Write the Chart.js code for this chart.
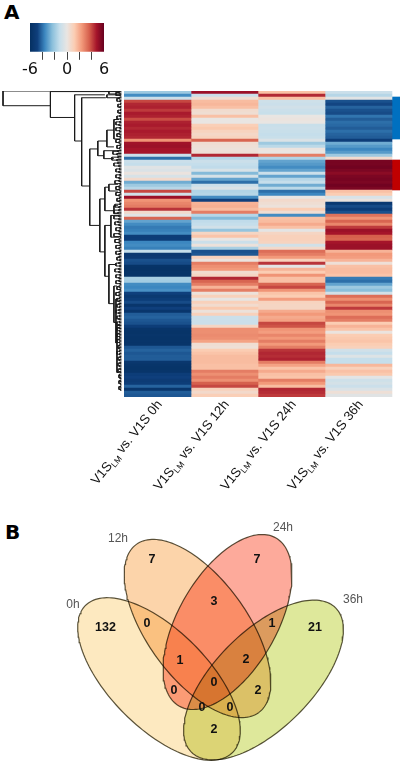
<!DOCTYPE html>
<html>
<head>
<meta charset="utf-8">
<script src="https://cdn.jsdelivr.net/npm/chart.js@4"></script>
<style>
html, body { margin: 0; padding: 0; background: #fff; }
body { width: 404px; height: 765px; position: relative; overflow: hidden; }
canvas { position: absolute; display: block; }
#dendro, #heat { filter: blur(0.45px); }
.letter { position: absolute; font: bold 20px "DejaVu Sans"; color: #000; line-height: 20px; }
</style>
</head>
<body>
<div class="letter" style="left:4px;top:2px">A</div>
<div class="letter" style="left:5px;top:522px">B</div>
<canvas id="colorbar" width="96" height="56" style="left:18px;top:23px"></canvas>
<canvas id="dendro" width="124" height="318" style="left:0;top:85px"></canvas>
<canvas id="heat" width="320" height="420" style="left:84px;top:85px"></canvas>
<canvas id="venn" width="404" height="250" style="left:0;top:515px"></canvas>
<script>
// heatmap columns, one value per row (log2 fold change)
const timepoints = ['0h', '12h', '24h', '36h'];
const heat0h = [
  -2, -3.5, -1, 4, 4.5, 4.6, 4.2, 4.7, 4.6, 3.9,
  4.6, 4.7, 4.5, 4.7, 4.6, 4.5, 2.5, 4.9, 5, 4.8,
  4.8, -1, -4, -1, -1.2, -0.3, -0.5, 0.1, -0.6, 0.6,
  -2.8, -2, -1.5, 4, -0.8, 5, 2.5, 2.8, 3, 4.3,
  0.6, -0.3, 3.5, -3, -3.5, -3.8, -3.7, -3.5, -5, -5,
  -3.6, -3.5, -3.7, -1.2, -5.3, -5.2, -4.5, -4.6, -5.7, -5.8,
  -5.7, -5.7, -1.8, -1.9, -3.5, -3.6, -3.4, -4.8, -5.3, -5,
  -4.6, -5.5, -4.8, -5.5, -4.3, -4.2, -4.4, -4.5, -5, -5.6,
  -5.7, -5.6, -5.7, -5.6, -5.6, -4.4, -4.2, -4.4, -4.3, -4.3,
  -5.4, -5.6, -5.7, -5.6, -5, -4.8, -5.1, -5, -4.2, -5.5,
  -4.3, -4.4
];
const heat12h = [
  5, -1, 0.4, 1.6, 1.7, 1.5, 0.5, 0.4, 1.5, 0,
  0, 1.1, 1.3, 0.9, 0.7, 0.9, 3.5, 0.4, 0.3, 0.2,
  0.3, 4.5, -1.5, -1, -1.2, -1.3, -0.6, -2.5, -0.7, -3,
  -4, -1, -0.5, -1.6, -1.5, -3.5, -4.8, 1.8, 1.9, 1.6,
  3, -1.5, -2.5, -1.3, -1.2, -0.8, -2.2, 0.8, 1.4, 0,
  -1, 0.2, -1.8, -4.5, -4.4, 1, 0.1, 3, 2.6, 2.4,
  0.5, 0.8, 4.5, 3.5, 3, 1.8, 3, 0.2, 1, -0.1,
  1, 0.5, 1.3, 0.2, 1, -1, -1, -1, 0.8, 2.6,
  2.6, 2.7, 2.6, 2.2, 0.4, 0.3, 1.2, 1.4, 1.6, 1.6,
  1.6, 1.5, 1.5, 3, 2.6, 3, 2.6, 3.6, 4, 1,
  0.6, 1.1
];
const heat24h = [
  1.5, 4.5, 1.5, -0.9, -1, -0.8, -1, -1.1, 0, 0.1,
  0, -1.1, -1, -1.1, -1.2, -1.1, -0.5, -2, -1.4, 0.1,
  0, 3, -1.6, -3, -3.2, -3.5, -3, -1, -3, -1.5,
  -1.2, -2.8, -1.4, -4, -3.6, 0, 0.6, 0.4, 0.2, 1.2,
  0.4, -3.5, 1.5, 1.6, 2, 1.5, -0.2, 0.8, 1, 1,
  0.9, -0.8, 0.6, 3.3, 3, 2.4, 1, 4.3, -0.2, 1.8,
  1.2, 2.5, 1.5, 1.5, 3.5, 4, 2.5, 1.4, 1.2, 2.3,
  0.9, 0.8, 0.8, 2, 2.4, 2, 2.2, 4, 3.8, 2.5,
  2.3, 2.8, 2.4, 3, 2.4, 3, 4.3, 4.5, 4.4, 4.6,
  3, 2.2, 1.4, 2, 1.5, 1.4, 3, 2.4, 1.6, 4.5,
  4.4, 4.2
];
const heat36h = [
  -1, -1.5, -0.3, -4.5, -4.7, -4.2, -4.5, -4.6, -3.9, -4.3,
  -4, -4.1, -4.3, -4, -4.2, -4.3, -5, -2.8, -3.2, -3.6,
  -3.2, -2, 0.5, 5.7, 5.7, 5.8, 5.6, 5.3, 5.6, 5.7,
  5.6, 5.8, 5.6, 1.5, 1.2, -0.6, 0.1, -5.3, -4.6, -5,
  -4.5, 3.2, 2.5, 3.5, 2.8, 4.2, 5, 4.8, 3.6, 3.5,
  4.8, 5, 5, 1.8, 2.4, 2.3, 1.8, 0.3, 1.5, 1.6,
  1.6, 1.4, -3.8, -4, -3, -2, -2.4, -0.8, 3.3, 2.6,
  3.5, 2.8, 4.2, 2.6, 2.5, 3.3, 3, 1.2, 1.8, 1.4,
  0.1, 1.2, 1.3, 1.4, 1.2, 1, -0.8, -1.2, -0.4, -1.2,
  -1.2, 1.7, 1, 1.5, 1.3, -0.2, -0.9, -0.7, -1, -0.5,
  0.3, -0.3
];
const heatColumns = [heat0h, heat12h, heat24h, heat36h];

// side marks next to the heatmap, as row ranges
const blueMarkRows = [2, 15];
const redMarkRows = [23, 32];

// colour key
const keyMin = -6;
const keyMax = 6;
const keyLabels = [-6, 0, 6];
const keyColors = ['#053061', '#0f3f7c', '#3c87c0', '#8abfdb', '#c5deeb', '#e9e5e2',
  '#fbcdb3', '#f2997a', '#d6604d', '#a5142a', '#67001f'];

// dendrogram: each bracket has a height, two row ends and the height each arm reaches
const brHeight = [118, 71, 47, 40, 32, 24, 15, 8, 18, 22, 17, 13, 8, 17, 11, 13, 8, 6, 5, 13, 15];
const brTop = [0, 0.2, 1.3, 2.3, 19.7, 17, 13.3, 9.7, 20.3, 36.7, 32.7, 31.7, 39, 45.7, 42.3, 59, 66.3, 70.7, 79.7, 0, 1.3];
const brBottom = [5, 9, 17, 32.3, 45.7, 22, 19, 16.3, 23, 54.7, 40.7, 34, 41.7, 63, 49.7, 72.3, 78.7, 85.7, 95.7, 1, 2.3];
const brArmTop = [2, 2, 17, 16, 24, 15, 8, 3, 3, 17, 13, 4, 4, 11, 3, 6, 5, 3, 2, 1, 2];
const brArmBottom = [71, 47, 40, 32, 22, 18, 8, 3, 8, 17, 8, 4, 4, 13, 3, 8, 5, 5, 3, 1, 2];
// depth of the small leaf pairs (one per row) and of the groups of two pairs
const pairDepth = [
  3, 2, 3, 2, 1.5, 2, 1.5, 2, 2, 1.5,
  2, 3, 2, 2.5, 3, 2, 2.5, 3, 2, 2.5,
  4, 5, 4, 5, 4, 3, 2.5, 3, 2, 3,
  3, 2, 3, 3, 2, 3, 2.5, 3, 2, 3,
  3, 4, 3, 3, 4, 3, 2, 3, 3, 2,
  3, 3, 2, 3, 2, 3, 3, 2, 3, 2,
  3, 3, 2, 3, 3, 2, 3, 2, 3, 3,
  2.5, 3, 3, 2.5, 3, 3, 2.5, 3, 2.5, 3,
  3, 2.5, 3, 2.5, 3, 2.5, 2.5, 3, 2.5, 2.5,
  2, 2.5, 2, 2.5, 2, 2, 2.5, 2, 2, 1.5,
  1.5, 1.5
];
const groupDepth = [
  6, 5, 4, 4, 5, 6, 6, 5, 6, 5,
  9, 10, 8, 6, 6, 7, 6, 6, 5, 7,
  8, 8, 7, 6, 8, 7, 6, 6, 5, 6,
  7, 6, 6, 5, 6, 5, 5, 6, 5, 5,
  5, 5, 5, 4, 5, 4, 4, 4, 3, 3,
  3
];

// venn diagram, positions in page pixels
const vennNames = ['0h', '36h', '12h', '24h'];
const vennCx = [159, 263.5, 197.5, 227.5];
const vennCy = [679, 680, 628.5, 622];
const vennLong = [104, 102, 104, 97];
const vennShort = [49, 48.6, 50, 49];
const vennAngle = [45, -45, 54, -60];
const vennFill = ['rgb(253,233,192)', 'rgb(222,232,155)', 'rgb(252,212,170)', 'rgb(253,170,155)'];
const vennNameX = [73, 353, 118, 283];
const vennNameY = [605, 600, 539, 528];
const vennCounts = ['132', '7', '0', '1', '0', '7', '3', '1', '21', '2', '0', '2', '0', '0', '2'];
const vennCountX = [105.5, 152, 147, 180, 174, 257, 214, 272, 315, 246, 214, 258, 230, 202, 214];
const vennCountY = [628, 560, 624, 661, 691, 560, 602, 624, 628, 660, 683, 691, 708, 708, 730];

Chart.defaults.animation = false;
Chart.defaults.responsive = false;
Chart.defaults.plugins.legend.display = false;
Chart.defaults.plugins.tooltip.enabled = false;

function hexToRgb(hex) {
  return [1, 3, 5].map(i => parseInt(hex.substr(i, 2), 16));
}

function valueColor(v) {
  const t = (Math.max(keyMin, Math.min(keyMax, v)) - keyMin) / (keyMax - keyMin) * (keyColors.length - 1);
  const i = Math.min(Math.floor(t), keyColors.length - 2);
  const a = hexToRgb(keyColors[i]);
  const b = hexToRgb(keyColors[i + 1]);
  const c = a.map((x, n) => Math.round(x + (b[n] - x) * (t - i)));
  return 'rgb(' + c.join(',') + ')';
}

function ellipsePoints(cx, cy, a, b, deg) {
  const pts = [];
  const r = deg * Math.PI / 180;
  for (let i = 0; i <= 160; i++) {
    const t = i / 160 * 2 * Math.PI;
    const ex = a * Math.cos(t);
    const ey = b * Math.sin(t);
    pts.push({ x: cx + ex * Math.cos(r) - ey * Math.sin(r), y: cy + ex * Math.sin(r) + ey * Math.cos(r) });
  }
  return pts;
}

/////////////////////// Colour key ///////////////////////
new Chart(document.getElementById('colorbar'), {
  type: 'bar',
  data: {
    labels: ['key'],
    datasets: [{
      data: [[keyMin, keyMax]],
      barPercentage: 1,
      categoryPercentage: 1,
      backgroundColor: function (ctx) {
        const area = ctx.chart.chartArea;
        if (!area) return '#888';
        const g = ctx.chart.ctx.createLinearGradient(area.left, 0, area.right, 0);
        keyColors.forEach((c, i) => g.addColorStop(i / (keyColors.length - 1), c));
        return g;
      }
    }]
  },
  options: {
    indexAxis: 'y',
    layout: { padding: { left: 12, right: 10, top: 0, bottom: 0 } },
    scales: {
      y: { display: false },
      x: {
        min: keyMin,
        max: keyMax,
        border: { display: false },
        grid: {
          drawOnChartArea: false,
          tickLength: 8,
          tickColor: ctx => (Math.abs(ctx.tick.value) === keyMax ? 'rgba(0,0,0,0)' : '#444')
        },
        ticks: {
          stepSize: 2,
          autoSkip: false,
          maxRotation: 0,
          padding: 0,
          color: '#111',
          font: { family: 'DejaVu Sans', size: 16 },
          callback: v => (keyLabels.includes(v) ? String(v) : '')
        }
      }
    }
  }
});

/////////////////////// Dendrogram ///////////////////////
function bracket(out, h, top, bottom, armTop, armBottom) {
  out.push({ x: armTop, y: top }, { x: h, y: top }, { x: h, y: bottom }, { x: armBottom, y: bottom }, { x: NaN, y: NaN });
}

const dendroPoints = [];
brHeight.forEach((h, i) => bracket(dendroPoints, h, brTop[i], brBottom[i], brArmTop[i], brArmBottom[i]));
pairDepth.forEach((d, k) => bracket(dendroPoints, d, k + 0.25, k + 0.75, 0.5, 0.5));
groupDepth.forEach((d, k) => bracket(dendroPoints, d, 2 * k + 0.5, 2 * k + 1.5, pairDepth[2 * k], pairDepth[2 * k + 1]));

new Chart(document.getElementById('dendro'), {
  type: 'scatter',
  data: {
    datasets: [{
      data: dendroPoints,
      showLine: true,
      spanGaps: false,
      borderColor: '#1a1a1a',
      borderWidth: 1,
      pointRadius: 0
    }]
  },
  options: {
    layout: { padding: { left: 0, right: 2, top: 6, bottom: 12 } },
    scales: {
      x: { display: false, type: 'linear', reverse: true, min: 0, max: 121 },
      y: { display: false, type: 'linear', reverse: true, min: 0, max: heat0h.length }
    }
  }
});

/////////////////////// Heatmap ///////////////////////
const rowNames = heat0h.map((v, i) => i);

const columnLabelsPlugin = {
  id: 'columnLabels',
  afterDraw(chart) {
    const c = chart.ctx;
    const bottom = chart.chartArea.bottom;
    timepoints.forEach((t, i) => {
      const x = chart.scales.x.getPixelForValue(i + 0.5) + 2;
      const big = '13.2px "Liberation Sans"';
      const small = '8.5px "Liberation Sans"';
      const first = 'V1S';
      const rest = ' vs. V1S ' + t;
      c.save();
      c.fillStyle = '#111';
      c.textAlign = 'left';
      c.textBaseline = 'alphabetic';
      c.font = big;
      const w1 = c.measureText(first).width;
      const w3 = c.measureText(rest).width;
      c.font = small;
      const w2 = c.measureText('LM').width;
      c.translate(x, bottom + 5);
      c.rotate(-51 * Math.PI / 180);
      let pos = -(w1 + w2 + w3);
      c.font = big;
      c.fillText(first, pos, 4);
      pos += w1;
      c.font = small;
      c.fillText('LM', pos, 7);
      pos += w2;
      c.font = big;
      c.fillText(rest, pos, 4);
      c.restore();
    });
  }
};

const heatDatasets = heatColumns.map(col => ({
  data: col.map(() => 1),
  backgroundColor: col.map(valueColor),
  borderWidth: 0,
  barPercentage: 1,
  categoryPercentage: 1
}));

heatDatasets.push({
  data: rowNames.map(() => 0.12),
  backgroundColor: rowNames.map(r => {
    if (r >= blueMarkRows[0] && r <= blueMarkRows[1]) return '#0070c0';
    if (r >= redMarkRows[0] && r <= redMarkRows[1]) return '#c00000';
    return 'rgba(0,0,0,0)';
  }),
  borderWidth: 0,
  barPercentage: 1,
  categoryPercentage: 1
});

new Chart(document.getElementById('heat'), {
  type: 'bar',
  data: { labels: rowNames, datasets: heatDatasets },
  options: {
    indexAxis: 'y',
    layout: { padding: { left: 40, right: 4, top: 6, bottom: 108 } },
    scales: {
      x: { display: false, stacked: true, min: 0, max: 4.12 },
      y: { display: false, stacked: true }
    }
  },
  plugins: [columnLabelsPlugin]
});

/////////////////////// Venn ///////////////////////
const vennBlendPlugin = {
  id: 'vennBlend',
  beforeDatasetsDraw(chart) {
    chart.ctx.save();
    chart.ctx.globalCompositeOperation = 'multiply';
  },
  afterDatasetsDraw(chart) {
    chart.ctx.restore();
  }
};

const vennTextPlugin = {
  id: 'vennText',
  afterDraw(chart) {
    const c = chart.ctx;
    c.save();
    c.textAlign = 'center';
    c.textBaseline = 'middle';
    chart.data.datasets.forEach((ds, i) => {
      if (!ds.texts) return;
      c.font = ds.textFont;
      c.fillStyle = ds.textColor;
      chart.getDatasetMeta(i).data.forEach((pt, n) => c.fillText(ds.texts[n], pt.x, pt.y));
    });
    c.restore();
  }
};

const vennSets = vennNames.map((name, i) => ({
  label: name,
  data: ellipsePoints(vennCx[i], vennCy[i], vennLong[i], vennShort[i], vennAngle[i]),
  showLine: true,
  fill: 'shape',
  backgroundColor: vennFill[i],
  borderColor: '#5a5540',
  borderWidth: 1.2,
  pointRadius: 0,
  order: vennNames.length - i
}));

vennSets.push({
  data: vennNames.map((n, i) => ({ x: vennNameX[i], y: vennNameY[i] })),
  texts: vennNames,
  textFont: '12px "Liberation Sans"',
  textColor: '#555',
  pointRadius: 0,
  showLine: false
});

vennSets.push({
  data: vennCounts.map((n, i) => ({ x: vennCountX[i], y: vennCountY[i] })),
  texts: vennCounts,
  textFont: 'bold 12.5px "Liberation Sans"',
  textColor: '#111',
  pointRadius: 0,
  showLine: false
});

new Chart(document.getElementById('venn'), {
  type: 'scatter',
  data: { datasets: vennSets },
  options: {
    scales: {
      x: { display: false, type: 'linear', min: 0, max: 404 },
      y: { display: false, type: 'linear', reverse: true, min: 515, max: 765 }
    }
  },
  plugins: [vennBlendPlugin, vennTextPlugin]
});
</script>
</body>
</html>
